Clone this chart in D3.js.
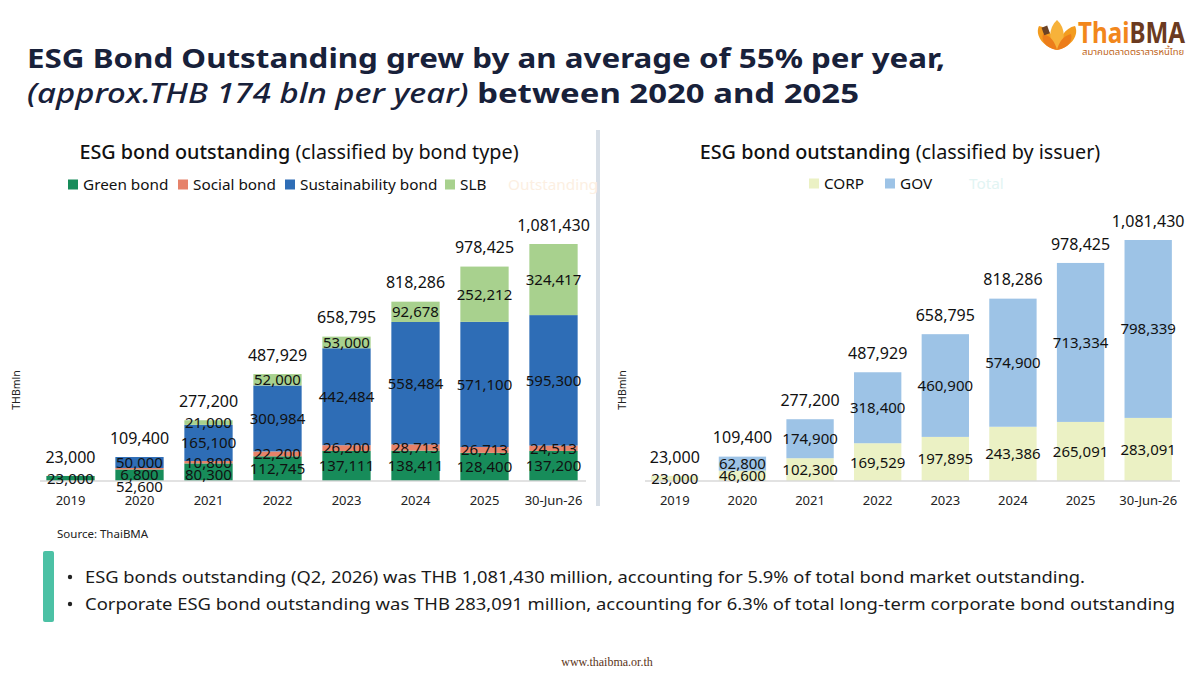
<!DOCTYPE html>
<html>
<head>
<meta charset="utf-8">
<script src="https://cdn.jsdelivr.net/npm/d3@7"></script>
<style>
  body { margin: 0; background: #fff; }
  svg { display: block; font-family: "Noto Sans", "DejaVu Sans", sans-serif; }
</style>
</head>
<body>
<div id="chart"></div>
<script>
// categories and values (THB mln)
const years = ["2019", "2020", "2021", "2022", "2023", "2024", "2025", "30-Jun-26"];

const typeKeys = ["Green bond", "Social bond", "Sustainability bond", "SLB"];
const greenBond = [23000, 52600, 80300, 112745, 137111, 138411, 128400, 137200];
const socialBond = [0, 6800, 10800, 22200, 26200, 28713, 26713, 24513];
const sustainabilityBond = [0, 50000, 165100, 300984, 442484, 558484, 571100, 595300];
const slbBond = [0, 0, 21000, 52000, 53000, 92678, 252212, 324417];

const issuerKeys = ["CORP", "GOV"];
const corpBond = [23000, 46600, 102300, 169529, 197895, 243386, 265091, 283091];
const govBond = [0, 62800, 174900, 318400, 460900, 574900, 713334, 798339];

const outstanding = [23000, 109400, 277200, 487929, 658795, 818286, 978425, 1081430];

const width = 1200, height = 678;
const fmt = d3.format(",");

const svg = d3.select("#chart").append("svg")
    .attr("width", width)
    .attr("height", height);

// Title
const title = svg.append("g").attr("fill", "#18213a").style("font-weight", 700);
title.append("text")
    .attr("x", 27).attr("y", 68)
    .style("font-size", "27px")
    .attr("textLength", 918).attr("lengthAdjust", "spacingAndGlyphs")
    .text("ESG Bond Outstanding grew by an average of 55% per year,");
const t2 = title.append("text")
    .attr("x", 27).attr("y", 103)
    .style("font-size", "27px")
    .attr("textLength", 832).attr("lengthAdjust", "spacingAndGlyphs");
t2.append("tspan").style("font-style", "italic").style("font-weight", 500).text("(approx.THB 174 bln per year)");
t2.append("tspan").text(" between 2020 and 2025");

// Logo
const logo = svg.append("g").attr("transform", "translate(1057,38)");
logo.append("path").attr("d", "M0,12 C-16,8 -22,-4 -18,-12 C-8,-10 -2,0 0,12Z").attr("fill", "#f39c1f");
logo.append("path").attr("d", "M0,12 C16,8 22,-4 18,-12 C8,-10 2,0 0,12Z").attr("fill", "#f39c1f");
logo.append("path").attr("d", "M0,12 C-9,4 -9,-10 0,-18 C9,-10 9,4 0,12Z").attr("fill", "#f7b23a");
logo.append("path").attr("d", "M0,12 C-12,10 -16,2 -14,-4 C-6,-2 -2,4 0,12Z").attr("fill", "#ec7d1a");
logo.append("path").attr("d", "M0,12 C12,10 16,2 14,-4 C6,-2 2,4 0,12Z").attr("fill", "#ec7d1a");
logo.append("rect").attr("x", -11).attr("y", -15).attr("width", 6).attr("height", 8)
    .attr("transform", "rotate(-20)").attr("fill", "#6b4226");
const logoText = svg.append("text")
    .attr("x", 1078).attr("y", 43)
    .style("font-size", "29px").style("font-weight", 700)
    .attr("textLength", 107).attr("lengthAdjust", "spacingAndGlyphs");
logoText.append("tspan").attr("fill", "#f2871c").text("Thai");
logoText.append("tspan").attr("fill", "#6b3a20").text("BMA");
svg.append("text")
    .attr("x", 1082).attr("y", 55)
    .style("font-size", "9.5px")
    .attr("fill", "#c0651a")
    .style("font-family", "'Noto Sans Thai', 'Noto Sans', 'DejaVu Sans', sans-serif")
    .text("สมาคมตลาดตราสารหนี้ไทย");

// Divider between charts
svg.append("rect")
    .attr("x", 596).attr("y", 130).attr("width", 4).attr("height", 376)
    .attr("fill", "#d7dee6");

function drawPanel(cfg) {
    const g = svg.append("g");
    const rows = years.map((y, i) => {
        const r = {year: y};
        cfg.keys.forEach((k, j) => r[k] = cfg.series[j][i]);
        return r;
    });

    const x = d3.scaleBand()
        .domain(years)
        .range(cfg.xRange)
        .paddingInner(0.3)
        .paddingOuter(0.15);

    const y = d3.scaleLinear()
        .domain([0, 1100000])
        .range([481, cfg.yTop]);

    const stack = d3.stack().keys(cfg.keys)(rows);

    // chart title
    const tt = g.append("text")
        .attr("x", cfg.titleX).attr("y", 159)
        .attr("text-anchor", "middle")
        .attr("fill", "#111")
        .style("font-size", "19.8px");
    tt.append("tspan").style("font-weight", 500).text("ESG bond outstanding");
    tt.append("tspan").text(" " + cfg.subtitle);

    // legend
    const lg = g.append("g").style("font-size", "15.3px").attr("fill", "#111");
    cfg.legend.forEach((d, i) => {
        if (d.swatch) {
            lg.append("rect")
                .attr("x", d.x - 15).attr("y", cfg.legendY - 10.5)
                .attr("width", 10).attr("height", 10)
                .attr("fill", cfg.colors[i]);
        }
        lg.append("text")
            .attr("x", d.x).attr("y", cfg.legendY)
            .attr("fill", d.color || "#111")
            .text(d.label);
    });

    // bars
    g.selectAll(".layer")
        .data(stack)
        .join("g")
        .attr("class", "layer")
        .attr("fill", (d, i) => cfg.colors[i])
        .selectAll("rect")
        .data(d => d)
        .join("rect")
        .attr("x", d => x(d.data.year))
        .attr("y", d => y(d[1]))
        .attr("width", x.bandwidth())
        .attr("height", d => y(d[0]) - y(d[1]));

    // x axis
    const ax = g.append("g")
        .attr("transform", "translate(0,481)")
        .call(d3.axisBottom(x).tickSize(0).tickPadding(15).tickSizeOuter(0));
    ax.select(".domain").attr("stroke", "#d9d9d9").attr("stroke-width", 1.5)
        .attr("d", `M${cfg.xRange[0] + 4},0H${cfg.xRange[1] - 2}`);
    ax.selectAll("text")
        .style("font-size", "13px")
        .style("font-family", "'Noto Sans', sans-serif")
        .attr("fill", "#222");

    // segment labels: centred, pushed down when crowded
    years.forEach((yr, i) => {
        let prev = -Infinity;
        for (let k = stack.length - 1; k >= 0; k--) {
            const seg = stack[k][i];
            const v = seg[1] - seg[0];
            if (!v) continue;
            let cy = (y(seg[0]) + y(seg[1])) / 2;
            cy = Math.max(cy, prev + 12);
            prev = cy;
            g.append("text")
                .attr("x", x(yr) + x.bandwidth() / 2)
                .attr("y", cy)
                .attr("dy", "0.36em")
                .attr("text-anchor", "middle")
                .attr("fill", "#111")
                .style("font-size", "15px")
                .text(fmt(v));
        }
    });

    // totals
    g.selectAll(".total")
        .data(outstanding)
        .join("text")
        .attr("class", "total")
        .attr("x", (d, i) => x(years[i]) + x.bandwidth() / 2)
        .attr("y", d => y(d) - 19)
        .attr("dy", "0.36em")
        .attr("text-anchor", "middle")
        .attr("fill", "#111")
        .style("font-size", "16px")
        .text(d => fmt(d));

    // unit
    g.append("text")
        .attr("transform", `translate(${cfg.unitX},390) rotate(-90)`)
        .attr("text-anchor", "middle")
        .attr("fill", "#222")
        .style("font-size", "10.5px")
        .text("THBmln");
}

drawPanel({
    keys: typeKeys,
    series: [greenBond, socialBond, sustainabilityBond, slbBond],
    colors: ["#178c5a", "#e6826a", "#2e6db6", "#a8d18e"],
    xRange: [36, 588],
    yTop: 481 - 237 * 1100000 / 1081430,
    titleX: 299,
    subtitle: "(classified by bond type)",
    legendY: 190,
    legend: [
        {label: "Green bond", x: 83, swatch: true},
        {label: "Social bond", x: 193, swatch: true},
        {label: "Sustainability bond", x: 300, swatch: true},
        {label: "SLB", x: 460, swatch: true},
        {label: "Outstanding", x: 508, color: "#fcefe2"}
    ],
    unitX: 20
});

drawPanel({
    keys: issuerKeys,
    series: [corpBond, govBond],
    colors: ["#ebf1c4", "#9dc3e6"],
    xRange: [641, 1182],
    yTop: 481 - 241 * 1100000 / 1081430,
    titleX: 900,
    subtitle: "(classified by issuer)",
    legendY: 189,
    legend: [
        {label: "CORP", x: 824, swatch: true},
        {label: "GOV", x: 900, swatch: true},
        {label: "Total", x: 969, color: "#e2f4f3"}
    ],
    unitX: 626
});

// Source
svg.append("text")
    .attr("x", 57).attr("y", 538)
    .attr("fill", "#222")
    .style("font-size", "11.5px")
    .text("Source: ThaiBMA");

// Notes
svg.append("rect")
    .attr("x", 43).attr("y", 551).attr("width", 11).attr("height", 71)
    .attr("rx", 2)
    .attr("fill", "#4cc1a5");

const notes = [
    {text: "ESG bonds outstanding (Q2, 2026) was THB 1,081,430 million, accounting for 5.9% of total bond market outstanding.", len: 1000},
    {text: "Corporate ESG bond outstanding was THB 283,091 million, accounting for 6.3% of total long-term corporate bond outstanding", len: 1090}
];
notes.forEach((n, i) => {
    svg.append("circle")
        .attr("cx", 70).attr("cy", 577 + i * 27).attr("r", 2.2)
        .attr("fill", "#222");
    svg.append("text")
        .attr("x", 85).attr("y", 583 + i * 27)
        .attr("fill", "#1a1a1a")
        .style("font-size", "16px")
        .attr("textLength", n.len).attr("lengthAdjust", "spacingAndGlyphs")
        .text(n.text);
});

// footer
svg.append("text")
    .attr("x", 607).attr("y", 666)
    .attr("text-anchor", "middle")
    .attr("fill", "#5a3418")
    .style("font-family", "'Liberation Serif', 'DejaVu Serif', serif")
    .style("font-size", "12px")
    .text("www.thaibma.or.th");
</script>
</body>
</html>
